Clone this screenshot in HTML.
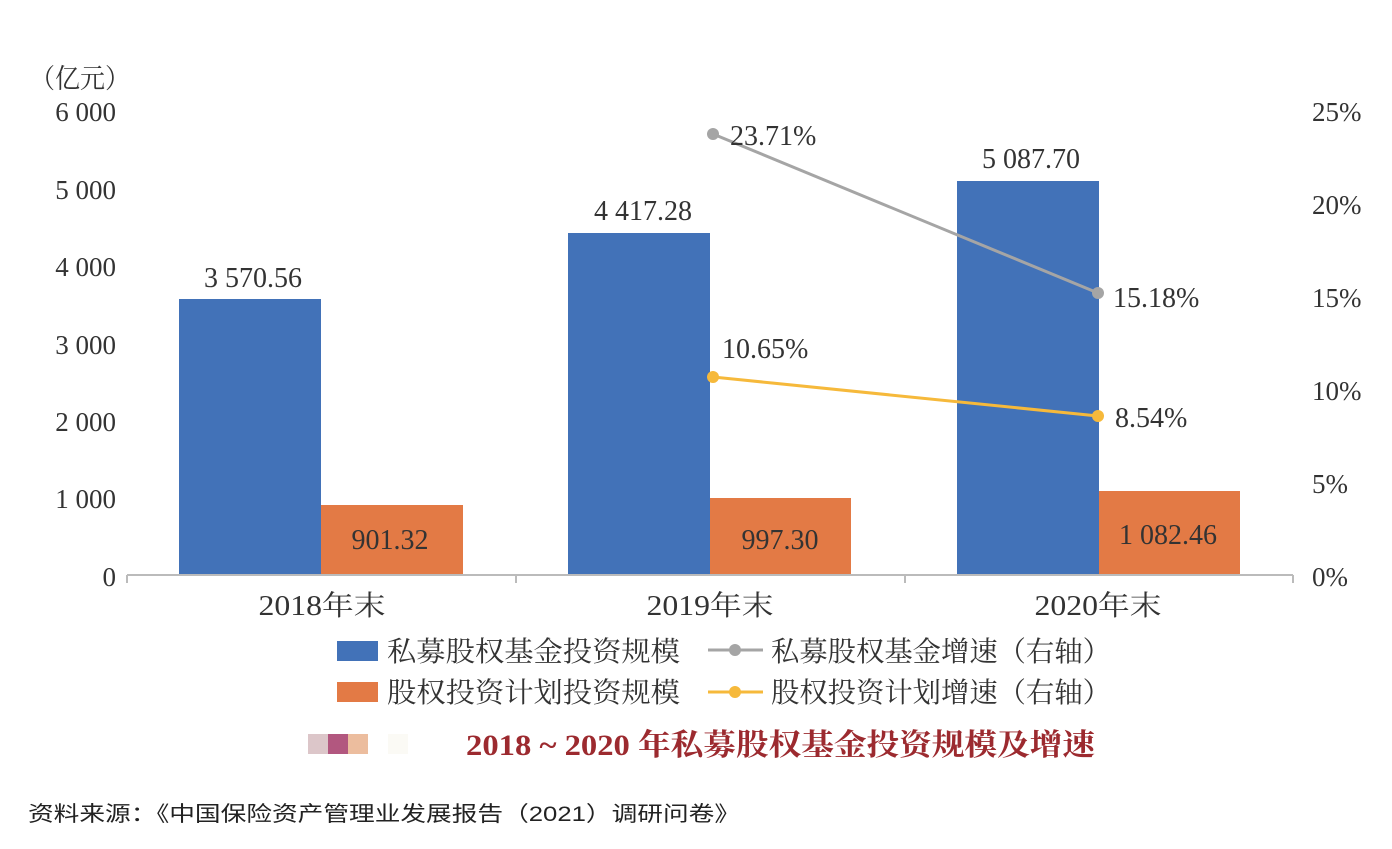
<!DOCTYPE html>
<html><head><meta charset="utf-8"><style>
body{margin:0;background:#fff}
svg text{font-family:"Liberation Serif","Noto Serif CJK SC",serif;fill:#333}
</style></head><body>
<svg width="1392" height="844" viewBox="0 0 1392 844" xmlns="http://www.w3.org/2000/svg">
<g font-size="27">
<text x="30" y="88" textLength="100" lengthAdjust="spacingAndGlyphs">（亿元）</text>
<g text-anchor="end">
<text x="116" y="121">6 000</text>
<text x="116" y="199">5 000</text>
<text x="116" y="276">4 000</text>
<text x="116" y="354">3 000</text>
<text x="116" y="431">2 000</text>
<text x="116" y="508">1 000</text>
<text x="116" y="586">0</text>
</g>
<g>
<text x="1312" y="121">25%</text>
<text x="1312" y="214">20%</text>
<text x="1312" y="307">15%</text>
<text x="1312" y="400">10%</text>
<text x="1312" y="493">5%</text>
<text x="1312" y="586">0%</text>
</g>
</g>
<rect x="179" y="299" width="142" height="276" fill="#4272b8"/>
<rect x="321" y="505" width="142" height="70" fill="#e37a45"/>
<rect x="568" y="233" width="142" height="342" fill="#4272b8"/>
<rect x="710" y="498" width="141" height="77" fill="#e37a45"/>
<rect x="957" y="181" width="142" height="394" fill="#4272b8"/>
<rect x="1099" y="491" width="141" height="84" fill="#e37a45"/>
<line x1="127" y1="575" x2="1293" y2="575" stroke="#bbb" stroke-width="2"/>
<g stroke="#bbb" stroke-width="2"><line x1="127" y1="575" x2="127" y2="583"/><line x1="516" y1="575" x2="516" y2="583"/><line x1="905" y1="575" x2="905" y2="583"/><line x1="1293" y1="575" x2="1293" y2="583"/></g>
<g font-size="28" text-anchor="middle">
<text x="253" y="287">3 570.56</text>
<text x="390" y="549">901.32</text>
<text x="643" y="220">4 417.28</text>
<text x="780" y="549">997.30</text>
<text x="1031" y="168">5 087.70</text>
<text x="1168" y="544">1 082.46</text>
<text x="322" y="615" textLength="127" lengthAdjust="spacingAndGlyphs">2018年末</text>
<text x="710" y="615" textLength="127" lengthAdjust="spacingAndGlyphs">2019年末</text>
<text x="1098" y="615" textLength="127" lengthAdjust="spacingAndGlyphs">2020年末</text>
</g>
<polyline points="713,134 1098,293" fill="none" stroke="#a5a5a5" stroke-width="3"/>
<circle cx="713" cy="134" r="6" fill="#a5a5a5"/><circle cx="1098" cy="293" r="6" fill="#a5a5a5"/>
<polyline points="713,377 1098,416" fill="none" stroke="#f6b93b" stroke-width="3"/>
<circle cx="713" cy="377" r="6" fill="#f6b93b"/><circle cx="1098" cy="416" r="6" fill="#f6b93b"/>
<g font-size="28">
<text x="730" y="145">23.71%</text>
<text x="1113" y="307">15.18%</text>
<text x="722" y="358">10.65%</text>
<text x="1115" y="427">8.54%</text>
</g>
<rect x="337" y="641" width="41" height="20" fill="#4272b8"/>
<rect x="337" y="682" width="41" height="20" fill="#e37a45"/>
<line x1="708" y1="650" x2="763" y2="650" stroke="#a5a5a5" stroke-width="3"/><circle cx="735" cy="650" r="6" fill="#a5a5a5"/>
<line x1="708" y1="692" x2="763" y2="692" stroke="#f6b93b" stroke-width="3"/><circle cx="735" cy="692" r="6" fill="#f6b93b"/>
<g font-size="28">
<text x="387" y="661" textLength="293" lengthAdjust="spacingAndGlyphs">私募股权基金投资规模</text>
<text x="387" y="702" textLength="293" lengthAdjust="spacingAndGlyphs">股权投资计划投资规模</text>
<text x="771" y="661" textLength="340" lengthAdjust="spacingAndGlyphs">私募股权基金增速（右轴）</text>
<text x="771" y="702" textLength="340" lengthAdjust="spacingAndGlyphs">股权投资计划增速（右轴）</text>
</g>
<rect x="308" y="734" width="20" height="20" fill="#dcc6c9"/>
<rect x="328" y="734" width="20" height="20" fill="#b2577f"/>
<rect x="348" y="734" width="20" height="20" fill="#ecbd9e"/>
<rect x="388" y="734" width="20" height="20" fill="#fbfaf5"/>
<text x="466" y="755" font-size="30" font-weight="bold" textLength="629" lengthAdjust="spacingAndGlyphs" style="fill:#9c2a2f">2018 ~ 2020 年私募股权基金投资规模及增速</text>
<text x="28" y="821" font-size="21" textLength="712" lengthAdjust="spacingAndGlyphs" style="fill:#222;font-family:'Liberation Sans','Noto Sans CJK SC',sans-serif">资料来源：《中国保险资产管理业发展报告（2021）调研问卷》</text>
</svg>
</body></html>
